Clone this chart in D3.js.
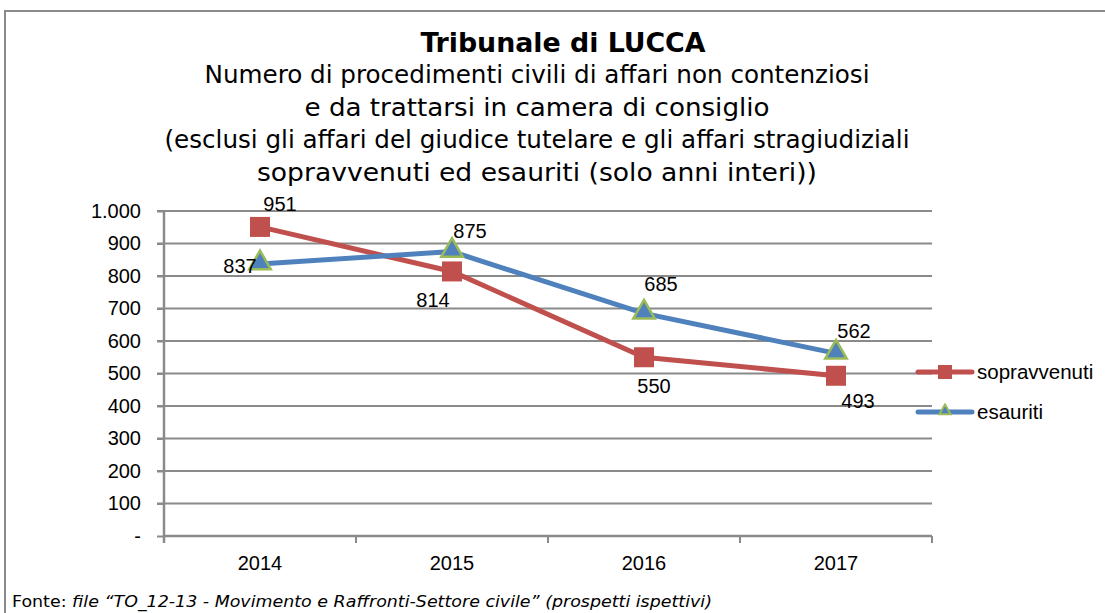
<!DOCTYPE html>
<html>
<head>
<meta charset="utf-8">
<script src="https://cdn.jsdelivr.net/npm/d3@7"></script>
<style>
  body { margin: 0; background: #fff; }
  svg { display: block; }
</style>
</head>
<body>
<script>
// chart data
var years = ["2014", "2015", "2016", "2017"];
var sopravvenuti = [951, 814, 550, 493];
var esauriti = [837, 875, 685, 562];
var yTicks = [0, 100, 200, 300, 400, 500, 600, 700, 800, 900, 1000];
var titleLines = [
  "Numero di procedimenti civili di affari non contenziosi",
  "e da trattarsi in camera di consiglio",
  "(esclusi gli affari del giudice tutelare e gli affari stragiudiziali",
  "sopravvenuti ed esauriti (solo anni interi))"
];

var w = 1105, h = 613;
var pLeft = 164, pRight = 932, pTop = 211, pBottom = 536;
var titleFont = "'DejaVu Sans Condensed', 'DejaVu Sans', sans-serif";
var labelFont = "'Liberation Sans', Arial, sans-serif";

var svg = d3.select("body").append("svg")
    .attr("width", w).attr("height", h);

// outer frame (only top and left visible)
svg.append("rect")
  .attr("x", 5).attr("y", 11)
  .attr("width", 1300).attr("height", 800)
  .style("fill", "none").style("stroke", "#8a8a8a").style("stroke-width", 2);

// titles
svg.append("text")
  .attr("x", 563).attr("y", 52)
  .attr("text-anchor", "middle")
  .style("font-family", titleFont).style("font-stretch", "condensed")
  .style("font-weight", "bold").style("font-size", "27px")
  .attr("textLength", 285).attr("lengthAdjust", "spacingAndGlyphs")
  .text("Tribunale di LUCCA");

var lineWidths = [665, 465, 745, 560];
svg.selectAll(".sub").data(titleLines).enter()
  .append("text").classed("sub", true)
  .attr("x", 537)
  .attr("y", function (d, i) { return 83 + i * 32.7; })
  .attr("text-anchor", "middle")
  .attr("textLength", function (d, i) { return lineWidths[i]; })
  .attr("lengthAdjust", "spacingAndGlyphs")
  .style("font-family", titleFont).style("font-stretch", "condensed")
  .style("font-size", "25px")
  .text(function (d) { return d; });

// scales
var x = d3.scaleBand().domain(years).range([pLeft, pRight]);
var y = d3.scaleLinear().domain([0, 1000]).range([pBottom, pTop]);
var cx = function (d, i) { return x(years[i]) + x.bandwidth() / 2; };

// gridlines
svg.append("g")
  .selectAll("line").data(yTicks.filter(function (d) { return d > 0; })).enter()
  .append("line")
  .attr("x1", pLeft - 7).attr("x2", pRight)
  .attr("y1", function (d) { return y(d); }).attr("y2", function (d) { return y(d); })
  .style("stroke", "#8a8a8a").style("stroke-width", 2);

// y axis
var yAxis = d3.axisLeft(y).tickValues(yTicks).tickSize(7).tickPadding(16)
  .tickFormat(function (d) { return d === 0 ? "-" : d3.format(",")(d).replace(/,/g, "."); });
var gy = svg.append("g").attr("transform", "translate(" + pLeft + ",0)").call(yAxis);
gy.select(".domain").remove();
gy.selectAll("line").style("stroke", "#8a8a8a").style("stroke-width", 2);
gy.selectAll("text")
  .style("font-family", labelFont)
  .style("font-size", "20px").style("fill", "#000");
svg.append("line")
  .attr("x1", pLeft).attr("x2", pLeft).attr("y1", pTop).attr("y2", pBottom + 7)
  .style("stroke", "#8a8a8a").style("stroke-width", 2.5);

// x axis
svg.append("line")
  .attr("x1", pLeft).attr("x2", pRight).attr("y1", pBottom).attr("y2", pBottom)
  .style("stroke", "#8a8a8a").style("stroke-width", 2.5);
var xEdges = years.map(function (d) { return x(d); }).concat([pRight]);
svg.selectAll(".xtick").data(xEdges).enter()
  .append("line").classed("xtick", true)
  .attr("x1", function (d) { return d; }).attr("x2", function (d) { return d; })
  .attr("y1", pBottom).attr("y2", pBottom + 7)
  .style("stroke", "#8a8a8a").style("stroke-width", 2);
svg.selectAll(".xlab").data(years).enter()
  .append("text").classed("xlab", true)
  .attr("x", function (d) { return x(d) + x.bandwidth() / 2; })
  .attr("y", 570)
  .attr("text-anchor", "middle")
  .style("font-family", labelFont)
  .style("font-size", "20px")
  .text(function (d) { return d; });

var line = d3.line()
  .x(function (d, i) { return cx(d, i); })
  .y(function (d) { return y(d); });

// sopravvenuti
svg.append("path").datum(sopravvenuti)
  .attr("d", line)
  .style("fill", "none").style("stroke", "#C0504D").style("stroke-width", 5);
svg.selectAll(".sq").data(sopravvenuti).enter()
  .append("rect").classed("sq", true)
  .attr("x", function (d, i) { return cx(d, i) - 10; })
  .attr("y", function (d) { return y(d) - 10; })
  .attr("width", 20).attr("height", 20)
  .style("fill", "#C0504D");

// esauriti
var tri = d3.symbol().type(d3.symbolTriangle).size(200);
svg.append("path").datum(esauriti)
  .attr("d", line)
  .style("fill", "none").style("stroke", "#4F81BD").style("stroke-width", 5);
svg.selectAll(".tri").data(esauriti).enter()
  .append("path").classed("tri", true)
  .attr("d", tri)
  .attr("transform", function (d, i) { return "translate(" + cx(d, i) + "," + (y(d) - 1) + ")"; })
  .style("fill", "#4F81BD").style("stroke", "#9BBB59").style("stroke-width", 2.5);

// data labels: offsets from the point [dx, dy]
var sopOff = [[20, -16], [-19, 36], [10, 36], [22, 32]];
var esaOff = [[-20, 9], [18, -14], [17, -22], [18, -15]];
function labels(cls, data, off) {
  svg.selectAll("." + cls).data(data).enter()
    .append("text").classed(cls, true)
    .attr("x", function (d, i) { return cx(d, i) + off[i][0]; })
    .attr("y", function (d, i) { return y(d) + off[i][1]; })
    .attr("text-anchor", "middle")
    .style("font-family", labelFont)
    .style("font-size", "20px")
    .text(function (d) { return d; });
}
labels("lsop", sopravvenuti, sopOff);
labels("lesa", esauriti, esaOff);

// legend
var legend = [
  { name: "sopravvenuti", color: "#C0504D", y: 372, mark: "sq" },
  { name: "esauriti", color: "#4F81BD", y: 412, mark: "tri" }
];
var lg = svg.selectAll(".leg").data(legend).enter().append("g").classed("leg", true);
lg.append("line")
  .attr("x1", 918).attr("x2", 972)
  .attr("y1", function (d) { return d.y; }).attr("y2", function (d) { return d.y; })
  .style("stroke", function (d) { return d.color; }).style("stroke-width", 5)
  .style("stroke-linecap", "round");
lg.filter(function (d) { return d.mark === "sq"; })
  .append("rect")
  .attr("x", 938).attr("y", function (d) { return d.y - 7; })
  .attr("width", 14).attr("height", 14).style("fill", "#C0504D");
lg.filter(function (d) { return d.mark === "tri"; })
  .append("path")
  .attr("d", d3.symbol().type(d3.symbolTriangle).size(55))
  .attr("transform", function (d) { return "translate(945," + (d.y - 1) + ")"; })
  .style("fill", "#4F81BD").style("stroke", "#9BBB59").style("stroke-width", 2);
lg.append("text")
  .attr("x", 977).attr("y", function (d) { return d.y + 7; })
  .style("font-family", labelFont)
  .style("font-size", "20.5px")
  .text(function (d) { return d.name; });

// source note
var foot = svg.append("text")
  .attr("x", 12).attr("y", 607)
  .attr("textLength", 700).attr("lengthAdjust", "spacingAndGlyphs")
  .style("font-family", "'DejaVu Sans', Verdana, sans-serif")
  .style("font-size", "15px");
foot.append("tspan").text("Fonte: ");
foot.append("tspan").style("font-style", "italic")
  .text("file \u201CTO_12-13 - Movimento e Raffronti-Settore civile\u201D (prospetti ispettivi)");
</script>
</body>
</html>
